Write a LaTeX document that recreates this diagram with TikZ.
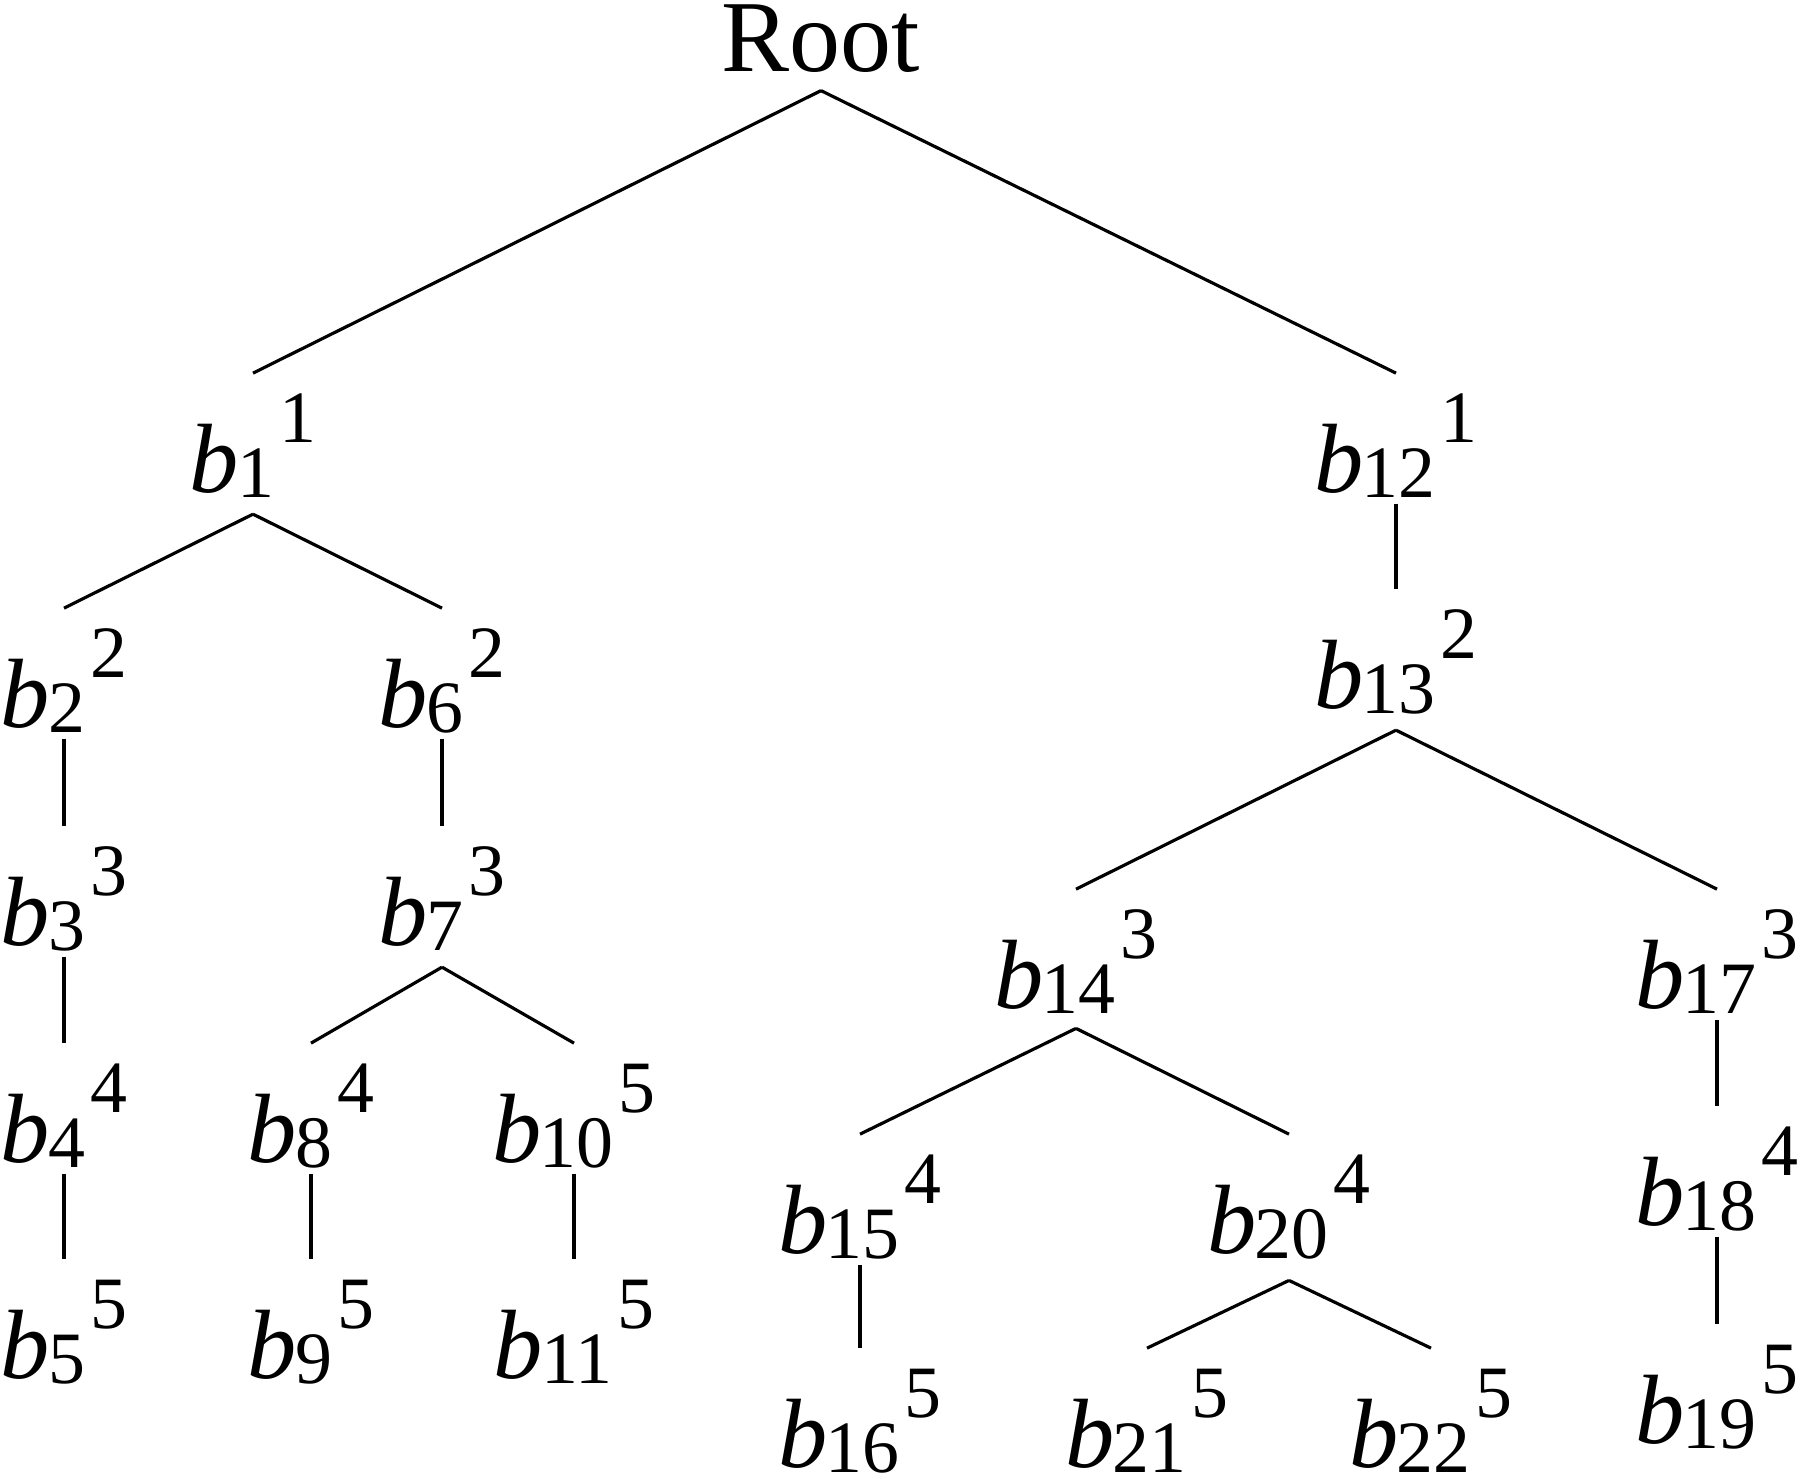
\documentclass[tikz,border=0pt]{standalone}
\usepackage{fontspec}
\setmainfont{Liberation Serif}
\usepackage{tikz}
\usetikzlibrary{positioning}
\tikzset{edge/.style={line width=0.9pt}}
\tikzset{bnode/.style={anchor=base, inner sep=0pt, text height=33.6pt, text depth=3.1pt,
    font=\fontsize{28}{30}\selectfont}}
\newcommand\digs{\fontsize{21}{22}\selectfont}
\newcommand\blab[2]{\textit{b}\kern-0.5pt\raisebox{-1.6pt}{\digs #1}\kern1.5pt\raisebox{14pt}{\digs #2}}

\begin{document}
\begin{tikzpicture}[x=0.01cm, y=-0.01cm]
  \useasboundingbox (0,0) rectangle (1800,1479);

  \node[bnode, text depth=5.1pt, font=\fontsize{29}{31}\selectfont](root) at (821,72) {Root};

  \node[bnode](b1) at (253,492) {\blab{1}{1}};
  \node[bnode](b12) at (1396,492) {\blab{12}{1}};

  \node[bnode](b2) at (64,727) {\blab{2}{2}};
  \node[bnode](b6) at (442,727) {\blab{6}{2}};
  \node[bnode](b3) at (64,945) {\blab{3}{3}};
  \node[bnode](b7) at (442,945) {\blab{7}{3}};
  \node[bnode](b4) at (64,1162) {\blab{4}{4}};
  \node[bnode](b8) at (311,1162) {\blab{8}{4}};
  \node[bnode](b10) at (574,1162) {\blab{10}{5}};
  \node[bnode](b5) at (64,1378) {\blab{5}{5}};
  \node[bnode](b9) at (311,1378) {\blab{9}{5}};
  \node[bnode](b11) at (574,1378) {\blab{11}{5}};

  \node[bnode](b13) at (1396,708) {\blab{13}{2}};
  \node[bnode](b14) at (1076,1008) {\blab{14}{3}};
  \node[bnode](b17) at (1717,1008) {\blab{17}{3}};
  \node[bnode](b15) at (860,1253) {\blab{15}{4}};
  \node[bnode](b20) at (1289,1253) {\blab{20}{4}};
  \node[bnode](b18) at (1717,1225) {\blab{18}{4}};
  \node[bnode](b16) at (860,1467) {\blab{16}{5}};
  \node[bnode](b21) at (1147,1467) {\blab{21}{5}};
  \node[bnode](b22) at (1431,1467) {\blab{22}{5}};
  \node[bnode](b19) at (1717,1443) {\blab{19}{5}};

  % fork points under the parents
  \coordinate (f1) at ([yshift=-3pt]b1.south);
  \coordinate (f7) at ([yshift=-3pt]b7.south);
  \coordinate (f13) at ([yshift=-3pt]b13.south);
  \coordinate (f14) at ([yshift=-2.5pt]b14.south);
  \coordinate (f20) at ([yshift=-4.5pt]b20.south);

  \draw[edge](root.south)--(b1.north);
  \draw[edge](root.south)--(b12.north);

  \draw[edge](f1)--(b2.north);
  \draw[edge](f1)--(b6.north);
  \draw[edge](b2.south)--(b3.north);
  \draw[edge](b3.south)--(b4.north);
  \draw[edge](b4.south)--(b5.north);
  \draw[edge](b6.south)--(b7.north);
  \draw[edge](f7)--(b8.north);
  \draw[edge](f7)--(b10.north);
  \draw[edge](b8.south)--(b9.north);
  \draw[edge](b10.south)--(b11.north);

  \draw[edge](b12.south)--(b13.north);
  \draw[edge](f13)--(b14.north);
  \draw[edge](f13)--(b17.north);
  \draw[edge](f14)--(b15.north);
  \draw[edge](f14)--(b20.north);
  \draw[edge](b15.south)--(b16.north);
  \draw[edge](f20)--(b21.north);
  \draw[edge](f20)--(b22.north);
  \draw[edge](b17.south)--(b18.north);
  \draw[edge](b18.south)--(b19.north);

\end{tikzpicture}
\end{document}
